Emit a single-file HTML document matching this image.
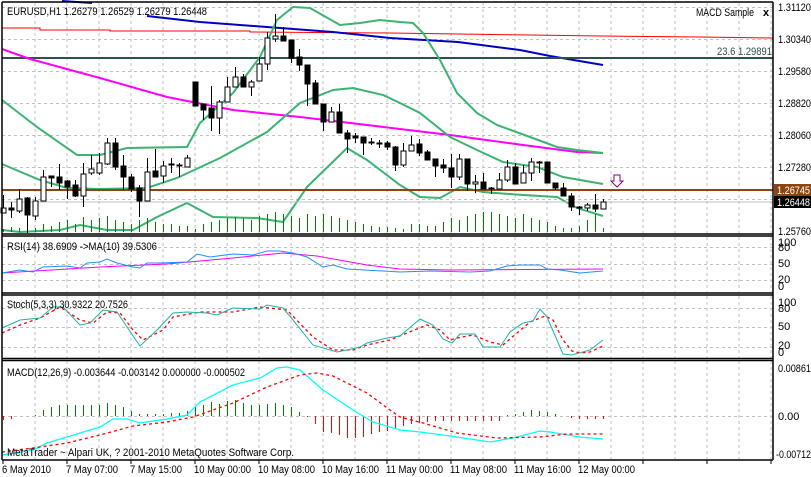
<!DOCTYPE html>
<html><head><meta charset="utf-8"><style>
html,body{margin:0;padding:0;background:#fff;}
svg{display:block;font-family:"Liberation Sans",sans-serif;font-size:11px;}
</style></head><body>
<svg id="s" width="811" height="477" viewBox="0 0 811 477" xmlns="http://www.w3.org/2000/svg">
<rect width="811" height="477" fill="#fff"/>
<g id="grid" stroke="#c0c0c0" stroke-dasharray="3,3" stroke-width="1" fill="none"></g>
<polyline fill="none" stroke="#ff0000" stroke-width="1" points="2,28 40,28 40,30 110,30 110,31 250,31 250,32 390,33 458,34 530,35 600,36 700,37 773,38"/>
<polyline fill="none" stroke="#0000c0" stroke-width="2" points="62,1 92,3"/>
<polyline fill="none" stroke="#0000c0" stroke-width="2" points="147,16 200,22 267,27 333,32 390,38 458,42 520,50 550,56 603,65"/>
<line x1="2" y1="58" x2="773" y2="58" stroke="#2f4f4f" stroke-width="2"/>
<text x="717" y="55" fill="#2f4f4f" textLength="55" lengthAdjust="spacingAndGlyphs">23.6 1.29891</text>
<polyline fill="none" stroke="#ff00ff" stroke-width="2" points="2,49 30,59 100,78 167,97 233,110 300,117 367,125 400,129 450,135 523,145 577,152 603,153"/>
<g fill="none" stroke="#3cb371" stroke-width="2">
<polyline points="2,100 37,127 77,155 100,155 127,148 187,147 200,123 233,93 260,57 277,20 293,7 310,8 340,25 360,23 380,20 400,22 413,23 423,33 440,60 457,93 477,113 497,125 530,137 557,147 577,150 603,153"/>
<polyline points="2,164 40,180 67,188 100,189 147,188 177,178 220,158 267,132 300,103 333,90 353,88 383,95 400,103 420,113 450,137 477,150 503,162 537,167 563,177 603,184"/>
<polyline points="2,230 20,232 60,230 80,225 107,230 133,230 157,217 187,203 213,217 257,218 283,222 307,187 347,148 367,160 400,185 420,197 440,198 460,187 483,192 523,195 557,197 577,208 603,216"/>
</g>
<line x1="2" y1="190" x2="773" y2="190" stroke="#8b4513" stroke-width="2"/>
<line x1="2" y1="202" x2="773" y2="202" stroke="#c0c0c0" stroke-width="1"/>
<g id="vol" stroke="#008000" stroke-width="1"></g>
<g id="cdl"></g>
<path d="M614,175 h6 v6 h3 l-6,6 l-6,-6 h3 z" fill="#fff" stroke="#800080" stroke-width="1"/>
<text x="7" y="15" fill="#000" textLength="200" lengthAdjust="spacingAndGlyphs">EURUSD,H1  1.26279 1.26529 1.26279 1.26448</text>
<text x="696" y="16" fill="#000" textLength="58" lengthAdjust="spacingAndGlyphs">MACD Sample</text>
<text x="763" y="16" fill="#000" font-weight="bold">x</text>

<polyline fill="none" stroke="#ff00ff" stroke-width="1" points="2,273 100,267 167,264 233,258 283,253 317,256 367,265 400,269 450,270 603,269"/>
<polyline fill="none" stroke="#1e90ff" stroke-width="1" points="2,273 20,270 33,272 43,267 67,266 80,268 87,263 100,262 107,259 117,263 133,267 140,268 147,263 160,263 187,262 197,254 210,257 233,254 253,255 267,251 280,251 293,253 307,257 323,267 333,265 347,269 400,272 430,271 470,272 490,271 507,266 520,265 540,265 547,269 560,270 580,273 603,271"/>
<text x="7" y="250" fill="#000" textLength="150" lengthAdjust="spacingAndGlyphs">RSI(14) 38.6909  -&gt;MA(10) 39.5306</text>

<polyline fill="none" stroke="#ff0000" stroke-width="1.3" stroke-dasharray="3,3" points="2,333 20,325 40,318 60,307 80,320 93,323 107,312 120,313 133,330 143,340 163,330 173,317 200,312 233,312 260,307 287,310 313,337 333,350 353,350 367,345 390,340 407,333 427,325 440,330 450,340 457,338 473,335 490,342 503,345 517,333 530,322 545,316 553,320 563,340 572,351 580,353 590,352 603,346"/>
<polyline fill="none" stroke="#20b2aa" stroke-width="1" points="2,328 20,320 40,318 53,307 63,307 80,325 90,323 103,310 117,312 127,327 140,346 157,330 173,313 187,312 207,313 217,315 233,308 260,309 267,305 283,308 293,320 313,345 337,352 347,350 360,347 367,343 387,338 400,336 420,319 433,325 443,339 452,343 460,334 475,334 483,347 500,347 510,332 523,323 533,321 540,309 547,317 563,354 572,355 590,350 603,340"/>
<text x="7" y="308" fill="#000" textLength="121" lengthAdjust="spacingAndGlyphs">Stoch(5,3,3) 30.9322 20.7526</text>

<g id="hist" stroke-width="1"></g>
<polyline fill="none" stroke="#00ffff" stroke-width="1.3" points="2,455 33,450 47,443 67,437 100,427 113,419 127,419 140,423 167,419 187,415 200,402 233,385 260,378 277,368 287,367 300,370 323,390 353,410 373,422 400,430 420,432 450,436 490,442 513,438 540,431 550,432 580,437 603,439"/>
<polyline fill="none" stroke="#ff0000" stroke-width="1.3" stroke-dasharray="3,3" points="2,452 33,448 67,443 100,435 133,426 167,422 193,417 233,403 267,387 300,375 317,373 333,376 367,393 390,410 400,417 423,423 457,433 497,438 540,437 567,434 603,434"/>
<text x="7" y="376" fill="#000" textLength="238" lengthAdjust="spacingAndGlyphs">MACD(12,26,9) -0.003644 -0.003142 0.000000 -0.000502</text>
<text x="7" y="456" fill="#000" textLength="287" lengthAdjust="spacingAndGlyphs">MetaTrader ~ Alpari UK, ? 2001-2010 MetaQuotes Software Corp.</text>

<g stroke="#000" stroke-width="1.5" fill="none">
<line x1="2" y1="2" x2="773" y2="2"/>
<line x1="2" y1="234" x2="773" y2="234"/>
<line x1="2" y1="236" x2="773" y2="236"/>
<line x1="2" y1="293" x2="773" y2="293"/>
<line x1="2" y1="295" x2="773" y2="295"/>
<line x1="2" y1="358.5" x2="773" y2="358.5"/>
<line x1="2" y1="360.5" x2="773" y2="360.5"/>
<line x1="2" y1="460" x2="773" y2="460"/>
<line x1="2" y1="2" x2="2" y2="460"/>
<line x1="773" y1="2" x2="773" y2="460"/>
</g>
<g id="ticks" stroke="#000" stroke-width="1"></g>
<g fill="#000" lengthAdjust="spacingAndGlyphs">
<text x="778" y="11" textLength="33" lengthAdjust="spacingAndGlyphs">1.31120</text>
<text x="778" y="43" textLength="33" lengthAdjust="spacingAndGlyphs">1.30340</text>
<text x="778" y="75" textLength="33" lengthAdjust="spacingAndGlyphs">1.29580</text>
<text x="778" y="107" textLength="33" lengthAdjust="spacingAndGlyphs">1.28820</text>
<text x="778" y="139" textLength="33" lengthAdjust="spacingAndGlyphs">1.28060</text>
<text x="778" y="171" textLength="33" lengthAdjust="spacingAndGlyphs">1.27280</text>
<text x="778" y="235" textLength="33" lengthAdjust="spacingAndGlyphs">1.25760</text>
</g>
<rect x="774" y="184" width="37" height="12" fill="#8b4513"/>
<text x="777" y="194" fill="#fff" textLength="33" lengthAdjust="spacingAndGlyphs">1.26745</text>
<rect x="774" y="196" width="37" height="12" fill="#000"/>
<text x="777" y="206" fill="#fff" textLength="33" lengthAdjust="spacingAndGlyphs">1.26448</text>
<g fill="#000">
<text x="778" y="246">100</text><text x="778" y="251">80</text><text x="778" y="267">50</text><text x="778" y="283">20</text><text x="778" y="290">0</text>
<text x="778" y="306">100</text><text x="778" y="312">80</text><text x="778" y="330">50</text><text x="778" y="349">20</text><text x="778" y="356">0</text>
<text x="778" y="372" textLength="33" lengthAdjust="spacingAndGlyphs">0.00861</text><text x="778" y="420">0.00</text><text x="776" y="458" textLength="35" lengthAdjust="spacingAndGlyphs">-0.00712</text>
</g>
<g fill="#000">
<text x="2" y="473" textLength="49" lengthAdjust="spacingAndGlyphs">6 May 2010</text>
<text x="66" y="473" textLength="52" lengthAdjust="spacingAndGlyphs">7 May 07:00</text>
<text x="130" y="473" textLength="52" lengthAdjust="spacingAndGlyphs">7 May 15:00</text>
<text x="194" y="473" textLength="57" lengthAdjust="spacingAndGlyphs">10 May 00:00</text>
<text x="258" y="473" textLength="57" lengthAdjust="spacingAndGlyphs">10 May 08:00</text>
<text x="322" y="473" textLength="57" lengthAdjust="spacingAndGlyphs">10 May 16:00</text>
<text x="386" y="473" textLength="57" lengthAdjust="spacingAndGlyphs">11 May 00:00</text>
<text x="450" y="473" textLength="57" lengthAdjust="spacingAndGlyphs">11 May 08:00</text>
<text x="514" y="473" textLength="57" lengthAdjust="spacingAndGlyphs">11 May 16:00</text>
<text x="578" y="473" textLength="57" lengthAdjust="spacingAndGlyphs">12 May 00:00</text>
</g>
</svg>
<script>
var NS="http://www.w3.org/2000/svg";
function el(p,t,a){var e=document.createElementNS(NS,t);for(var k in a)e.setAttribute(k,a[k]);p.appendChild(e);return e;}
var g=document.getElementById("grid");
for(var x=35;x<773;x+=32){el(g,"line",{x1:x,y1:3,x2:x,y2:233});el(g,"line",{x1:x,y1:237,x2:x,y2:292});el(g,"line",{x1:x,y1:296,x2:x,y2:358});el(g,"line",{x1:x,y1:361,x2:x,y2:459});}
[7,39,71,103,135,167,199,247,264,280,308,327,347,416].forEach(function(y){el(g,"line",{x1:2,y1:y+.5,x2:773,y2:y+.5});});
var tk=document.getElementById("ticks");
for(var x=3;x<773;x+=64){el(tk,"line",{x1:x,y1:460,x2:x,y2:464});}
var C=[[195,213,208,213,1],[202,218,208,210,0],[189,213,199,211,1],[197,233,198,215,0],[197,220,201,216,1],[170,201,177,201,1],[176,187,176,178,0],[164,190,177,183,0],[180,199,181,187,0],[180,197,185,196,0],[163,207,174,196,1],[155,175,169,173,1],[153,175,163,173,1],[138,165,143,164,1],[138,170,143,167,0],[155,190,166,177,0],[174,192,177,189,0],[185,217,188,201,0],[158,201,172,201,1],[149,177,171,177,0],[161,183,166,176,1],[158,173,164,165,0],[163,177,165,166,0],[155,167,158,167,1],[82,106,82,106,0],[104,120,104,110,0],[86,131,108,118,0],[100,134,102,118,1],[77,102,87,102,1],[67,87,77,87,1],[74,87,77,87,0],[80,96,82,87,1],[57,81,64,81,1],[32,70,38,64,1],[14,42,36,39,1],[27,41,36,41,0],[40,63,40,58,0],[49,71,57,65,0],[65,106,65,84,0],[80,104,83,104,0],[104,131,104,122,0],[107,122,112,122,1],[104,133,112,133,0],[130,153,133,139,0],[133,143,136,138,0],[137,155,137,143,0],[138,145,142,143,0],[140,148,143,144,0],[141,150,143,147,0],[146,171,147,165,0],[143,167,151,165,1],[136,151,145,151,1],[139,156,144,153,0],[150,160,152,160,0],[159,177,159,166,0],[159,173,165,168,0],[154,188,168,177,0],[154,180,159,177,1],[159,191,159,184,0],[175,193,182,184,1],[173,189,182,189,0],[187,194,188,189,0],[173,189,180,189,1],[160,182,167,180,1],[163,184,167,184,0],[165,183,173,183,1],[158,181,162,173,1],[161,173,162,163,0],[162,183,162,183,0],[183,190,183,188,0],[183,196,188,196,0],[193,211,196,207,0],[206,215,207,208,0],[203,211,205,208,1],[194,212,205,209,0],[199,209,202,209,1]];
var V=[3,5,4,6,4,8,6,10,12,8,15,12,14,16,12,10,8,12,14,10,8,8,6,6,3,8,10,12,14,15,14,12,16,18,20,18,16,14,18,16,18,16,14,12,10,8,6,5,5,4,3,8,8,6,6,10,14,12,16,18,20,20,18,16,14,18,14,12,10,6,4,4,6,12,18,4];
var H=[-4,-3,0,0,1,6,9,11,11,11,11,11,11,13,11,9,5,2,2,2,2,3,3,5,10,11,14,12,15,16,13,11,11,12,13,11,9,4,-1,-8,-16,-17,-19,-22,-22,-21,-18,-16,-15,-13,-10,-8,-7,-6,-5,-5,-5,-5,-5,-5,-5,-5,-5,1,2,4,6,5,4,2,0,-2,-3,-3,-3,-3];
var vg=document.getElementById("vol"),cg=document.getElementById("cdl"),hg=document.getElementById("hist");
for(var i=0;i<C.length;i++){var x=3+8*i+.5;
 el(vg,"line",{x1:x,y1:232,x2:x,y2:232-V[i]});
 var c=C[i];
 el(cg,"line",{x1:x,y1:c[0],x2:x,y2:c[1],stroke:"#000"});
 var h=Math.max(c[3]-c[2],1);
 el(cg,"rect",{x:x-2.5,y:c[2],width:5,height:h,fill:c[4]?"#fff":"#000",stroke:"#000","stroke-width":1});
 if(H[i])el(hg,"line",{x1:x,y1:416,x2:x,y2:416-H[i],stroke:H[i]>0?"#008000":"#ff0000"});
}
</script>
</body></html>
